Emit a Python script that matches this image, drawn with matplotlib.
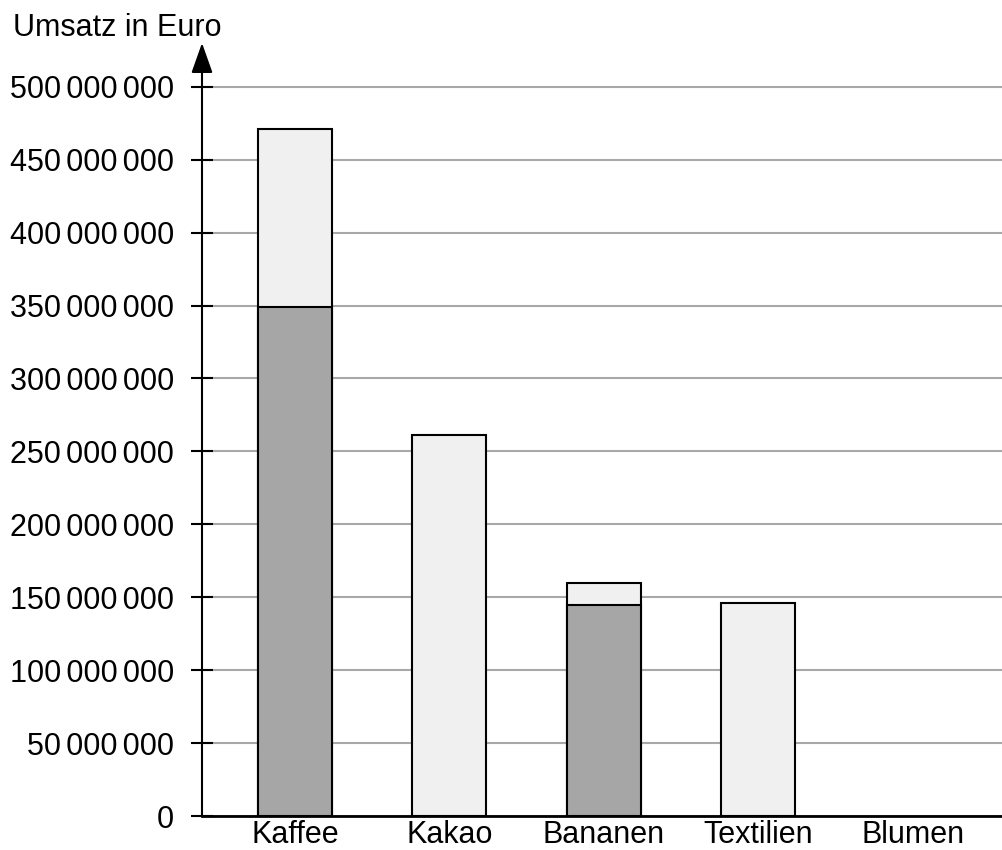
import numpy as np
import matplotlib.pyplot as plt
from matplotlib.ticker import FuncFormatter

# Umsatz je Produkt (Euro)
produkte = ["Kaffee", "Kakao", "Bananen", "Textilien", "Blumen"]
umsatz_gesamt = [471e6, 261e6, 160e6, 146e6, np.nan]
umsatz_anteil = [349e6, np.nan, 145e6, np.nan, np.nan]
y_ticks = [0, 50e6, 100e6, 150e6, 200e6, 250e6, 300e6, 350e6, 400e6, 450e6, 500e6]

plt.rcParams['font.family'] = ['Liberation Sans', 'DejaVu Sans']
plt.rcParams['font.size'] = 22

W, H = 1003, 850
fig = plt.figure(figsize=(W / 100, H / 100), dpi=100)
ax = fig.add_axes([202 / W, 1 - 816 / H, 1 - 202 / W, (816 - 43) / H])

x = np.arange(len(produkte))
breite = 0.479

ax.bar(x, umsatz_gesamt, width=breite, color="#f0f0f0", edgecolor="black",
       linewidth=1.5, zorder=3)
ax.bar(x, umsatz_anteil, width=breite, color="#a6a6a6", edgecolor="black",
       linewidth=1.5, zorder=3)

ax.set_xlim(-0.602, 4.583)
ax.set_ylim(0, 530e6)

ax.set_yticks(y_ticks)
ax.yaxis.set_major_formatter(FuncFormatter(
    lambda v, p: f"{int(v):,}".replace(",", "\u2006")))
ax.tick_params(axis="y", direction="inout", length=16.5, width=1.5, pad=12)
ax.set_xticks(x)
ax.set_xticklabels(produkte)
ax.tick_params(axis="x", length=0, pad=3)

ax.yaxis.grid(True, color="#a8a8a8", linewidth=1.5, zorder=0)
ax.set_axisbelow(True)

for s in ["top", "right", "left"]:
    ax.spines[s].set_visible(False)
ax.spines["bottom"].set_linewidth(2)
ax.spines["bottom"].set_zorder(5)

# y-Achse mit Pfeil
ax.annotate("", xy=(0, 530e6), xytext=(0, 0),
            xycoords=ax.get_yaxis_transform(), textcoords=ax.get_yaxis_transform(),
            arrowprops=dict(arrowstyle="-|>,head_length=0.93,head_width=0.33",
                            mutation_scale=20, color="black", lw=1.5,
                            shrinkA=0, shrinkB=0),
            annotation_clip=False, zorder=6)

fig.text(13 / W, 1 - 28 / H, "Umsatz in Euro", va="center", ha="left")

fig.savefig("out.png", dpi=100)
